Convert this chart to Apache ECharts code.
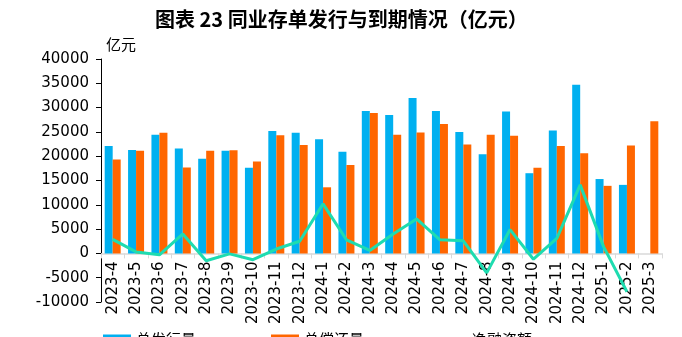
<!DOCTYPE html>
<html>
<head>
<meta charset="utf-8">
<script src="https://cdn.jsdelivr.net/npm/echarts@6/dist/echarts.min.js"></script>
<style>html,body{margin:0;padding:0;background:#fff}#c{width:682px;height:337px}</style>
</head>
<body>
<div id="c"></div>
<script>
var categories = ['2023-4','2023-5','2023-6','2023-7','2023-8','2023-9','2023-10','2023-11','2023-12','2024-1','2024-2','2024-3','2024-4','2024-5','2024-6','2024-7','2024-8','2024-9','2024-10','2024-11','2024-12','2025-1','2025-2','2025-3'];
var issuance = [22100,21300,24400,21600,19500,21100,17600,25200,24800,23500,20900,29300,28500,32000,29300,25000,20400,29200,16500,25300,34700,15300,14100,'-'];
var repayment = [19300,21100,24800,17700,21100,21200,18900,24300,22300,13600,18200,28900,24400,24900,26600,22400,24400,24200,17600,22100,20600,13900,22200,27200];
var netFinancing = [2900,300,-300,4000,-1500,-100,-1300,900,2500,10200,2800,600,4000,7100,2800,2600,-4000,4900,-1200,3100,14100,1400,-7900,'-'];
var yTicks = {min:-10000, max:40000, interval:5000};
var seriesNames = ['总发行量','总偿还量','净融资额'];

var chart = echarts.init(document.getElementById('c'));
var font = 'DejaVu Sans';
var gridTop = 59, gridBottom = 35, H = 337;
var plotH = H - gridTop - gridBottom;
// distance from bottom of grid up to the zero line
var zeroOffset = plotH * (0 - yTicks.min) / (yTicks.max - yTicks.min);
chart.setOption({
  animation:false,
  title:{text:'图表 23 同业存单发行与到期情况（亿元）', left:150, top:4,
    textStyle:{fontFamily:'Noto Sans CJK SC', fontSize:20, fontWeight:'bold', color:'#000'}},
  graphic:[{type:'text', left:106, top:37, style:{text:'亿元', font:'15px "Noto Sans CJK SC"', fill:'#000'}}],
  legend:{left:98, top:327, itemWidth:28, itemHeight:10, itemGap:75,
    textStyle:{fontFamily:'Noto Sans CJK SC', fontSize:15, color:'#000'},
    data:[{name:seriesNames[0], icon:'rect'},{name:seriesNames[1], icon:'rect'},
      {name:seriesNames[2], icon:'path://M0,0h0.01v0.01h-0.01z M0,3.5h28v3.5h-28z M0,10h0.01v0.01h-0.01z'}]},
  grid:{left:101, right:20, top:gridTop, bottom:gridBottom, containLabel:false, outerBoundsMode:'none'},
  xAxis:{type:'category', data:categories, offset:-zeroOffset,
    axisLine:{onZero:false, lineStyle:{color:'#d9d9d9', width:1.5}},
    axisTick:{show:true, length:5, lineStyle:{color:'#d9d9d9'}},
    axisLabel:{rotate:90, interval:0, fontFamily:font, fontSize:15, color:'#000', margin:8}},
  yAxis:{type:'value', min:yTicks.min, max:yTicks.max, interval:yTicks.interval,
    splitLine:{show:false},
    axisLine:{show:true, lineStyle:{color:'#000', width:1}},
    axisTick:{show:true, length:5, lineStyle:{color:'#000'}},
    axisLabel:{fontFamily:font, fontSize:15, color:'#000', margin:12, formatter:function(v){return String(v);}}},
  series:[
    {name:seriesNames[0], type:'bar', data:issuance, barWidth:8, barGap:'0%', itemStyle:{color:'#00B0F0'}},
    {name:seriesNames[1], type:'bar', data:repayment, barWidth:8, itemStyle:{color:'#FF6600'}},
    {name:seriesNames[2], type:'line', data:netFinancing, symbol:'none', z:5, lineStyle:{width:3, color:'#1EDCB0'}, itemStyle:{color:'#1EDCB0'}}
  ]
});
</script>
</body>
</html>
